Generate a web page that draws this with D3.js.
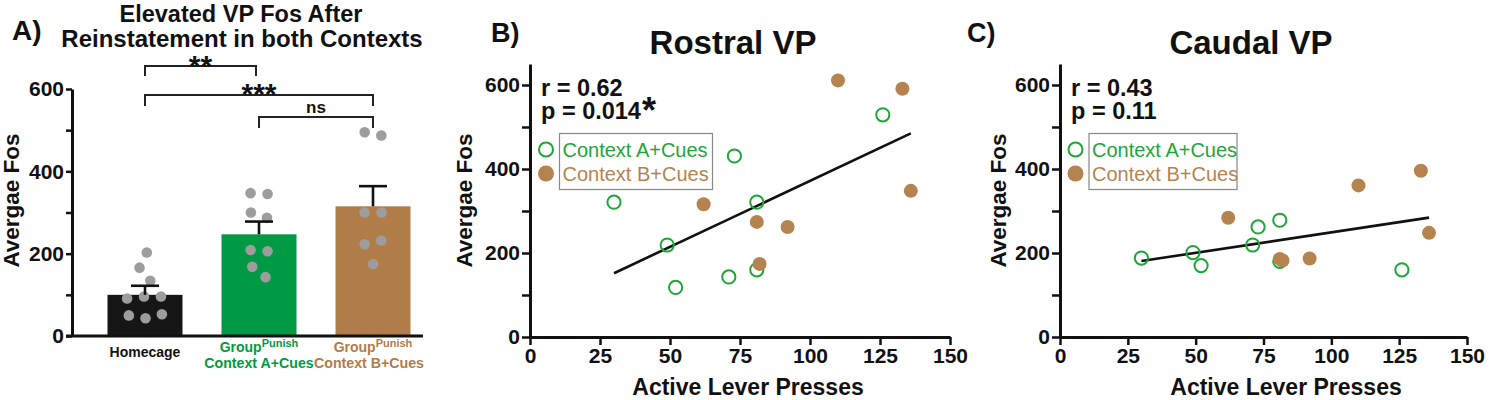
<!DOCTYPE html>
<html><head><meta charset="utf-8">
<script src="https://cdn.jsdelivr.net/npm/d3@7"></script>
<style>
body{margin:0;background:#fff}
svg{display:block;font-family:"Liberation Sans",Arial,Helvetica,sans-serif}
</style>
</head><body><svg id="c" width="1500" height="400"></svg>
<script>
// ---------------- DATA ----------------
const groups = ["Homecage", "Context A+Cues", "Context B+Cues"];
const groupMeans = [100, 247, 315];
const groupSEM = [22, 31, 49];
const homecageFos = [203, 166, 134, 96, 91, 96, 53, 43, 50];
const contextAFos = [347, 345, 300, 287, 209, 206, 168, 143];
const contextBFos = [495, 487, 300, 300, 232, 223, 175];
const comparisons = [
  {a: 0, b: 1, label: "**"},
  {a: 0, b: 2, label: "***"},
  {a: 1, b: 2, label: "ns"}
];
const barTicks = [0, 100, 200, 300, 400, 500, 600];

const leverA = [30, 49, 52, 71, 73, 81, 81, 126];
const leverB = [62, 81, 82, 92, 110, 133, 136];
const rostralFosA = [321, 219, 118, 143, 431, 321, 160, 529];
const rostralFosB = [316, 274, 174, 262, 611, 591, 348];
const caudalFosA = [188, 201, 170, 219, 262, 278, 180, 160];
const caudalFosB = [284, 186, 182, 187, 361, 396, 248];
const xTicks = [0, 25, 50, 75, 100, 125, 150];
const fosTicks = [0, 100, 200, 300, 400, 500, 600];
const legendLabels = ["Context A+Cues", "Context B+Cues"];
const statsRostral = ["r = 0.62", "p = 0.014", "*"];
const statsCaudal = ["r = 0.43", "p = 0.11", ""];

// ---------------- STYLE ----------------
const C = {
  black: "#161616", greenBar: "#009a44", brownBar: "#b07c48",
  dot: "#9d9d9d", green: "#1fa53a", brown: "#b5834f", ink: "#111"
};
const svg = d3.select("#c");

// ---------------- PANEL A ----------------
const yA = d3.scaleLinear().domain([0, 600]).range([336, 89]);
const xA = d3.scalePoint().domain(groups).range([145, 373]);
const barW = 75;
const barColors = [C.black, C.greenBar, C.brownBar];
const gA = svg.append("g");

gA.append("text").attr("x", 12).attr("y", 40).attr("font-size", 28).attr("font-weight", "bold").attr("fill", C.ink).text("A)");
gA.append("text").attr("x", 241).attr("y", 22).attr("text-anchor", "middle").attr("font-size", 23.5).attr("font-weight", "bold").attr("fill", C.ink).text("Elevated VP Fos After");
gA.append("text").attr("x", 242).attr("y", 47).attr("text-anchor", "middle").attr("font-size", 24).attr("font-weight", "bold").attr("fill", C.ink).text("Reinstatement in both Contexts");

gA.selectAll("rect.bar").data(groups).join("rect")
  .attr("x", d => xA(d) - barW / 2).attr("width", barW)
  .attr("y", (d, i) => yA(groupMeans[i])).attr("height", (d, i) => yA(0) - yA(groupMeans[i]))
  .attr("fill", (d, i) => barColors[i]);

function swarm(vals, cx) {
  const nodes = vals.map(v => ({v, x: cx, y: yA(v)}));
  const sim = d3.forceSimulation(nodes)
    .force("x", d3.forceX(cx).strength(0.04))
    .force("y", d3.forceY(d => yA(d.v)).strength(1))
    .force("c", d3.forceCollide(8.5))
    .stop();
  for (let i = 0; i < 250; i++) sim.tick();
  return nodes;
}
[homecageFos, contextAFos, contextBFos].forEach((vals, i) => {
  const nodes = swarm(vals, xA(groups[i]));
  gA.selectAll(null).data(nodes).join("circle")
    .attr("cx", d => d.x).attr("cy", d => yA(d.v)).attr("r", 5.3).attr("fill", C.dot);
});

// error bars
groups.forEach((g, i) => {
  const cx = xA(g), top = yA(groupMeans[i] + groupSEM[i]);
  gA.append("line").attr("x1", cx).attr("x2", cx).attr("y1", yA(groupMeans[i])).attr("y2", top).attr("stroke", C.ink).attr("stroke-width", 2.6);
  gA.append("line").attr("x1", cx - 14).attr("x2", cx + 14).attr("y1", top).attr("y2", top).attr("stroke", C.ink).attr("stroke-width", 2.6);
});

// axes A
const axA = gA.append("g").attr("transform", "translate(72,0)")
  .call(d3.axisLeft(yA).tickValues(barTicks).tickSize(6).tickSizeOuter(0).tickPadding(2)
    .tickFormat(d => d % 200 === 0 ? d : ""));
axA.select(".domain").attr("stroke", C.ink).attr("stroke-width", 3);
axA.selectAll(".tick line").attr("stroke", C.ink).attr("stroke-width", 2.5);
axA.selectAll(".tick text").attr("font-size", 21).attr("font-weight", "bold").attr("fill", C.ink).attr("font-family", "Liberation Sans, Arial, sans-serif");
gA.append("line").attr("x1", 66).attr("x2", 423).attr("y1", yA(0)).attr("y2", yA(0)).attr("stroke", C.ink).attr("stroke-width", 3);

gA.append("text").attr("transform", `translate(19,${(yA(0) + yA(600)) / 2 - 12}) rotate(-90)`)
  .attr("text-anchor", "middle").attr("font-size", 22.5).attr("font-weight", "bold").attr("fill", C.ink).text("Avergae Fos");

// x labels A
const labColors = [C.ink, C.greenBar, C.brownBar];
gA.append("text").attr("x", xA(groups[0])).attr("y", 357).attr("text-anchor", "middle").attr("font-size", 14).attr("font-weight", "bold").attr("fill", labColors[0]).text(groups[0]);
[1, 2].forEach(i => {
  const t = gA.append("text").attr("x", xA(groups[i])).attr("y", 352).attr("text-anchor", "middle").attr("font-weight", "bold").attr("fill", labColors[i]);
  t.append("tspan").attr("font-size", 14).text("Group");
  t.append("tspan").attr("font-size", 11).attr("dy", -5).text("Punish");
  gA.append("text").attr("x", xA(groups[i]) - (i === 2 ? 4 : 0)).attr("y", 368).attr("text-anchor", "middle").attr("font-size", 14.2).attr("font-weight", "bold").attr("fill", labColors[i]).text(groups[i]);
});

// significance brackets
const bracketY = [66, 95, 117], drop = [10, 11, 11], labelY = [76, 104, 113], labelSize = [30, 30, 17];
comparisons.forEach((c, k) => {
  const x1 = xA(groups[c.a]), x2 = xA(groups[c.b]) + (c.b === 1 ? -3 : 0);
  const y = bracketY[k];
  gA.append("path").attr("d", `M${x1},${y + drop[k]}V${y}H${x2}V${y + drop[k]}`)
    .attr("fill", "none").attr("stroke", "#222").attr("stroke-width", 2);
  gA.append("text").attr("x", (x1 + x2) / 2).attr("y", labelY[k]).attr("text-anchor", "middle")
    .attr("font-size", labelSize[k]).attr("font-weight", "bold").attr("fill", C.ink).text(c.label);
});

// ---------------- SCATTER PANELS ----------------
function scatterPanel(opt) {
  const g = svg.append("g");
  const x = d3.scaleLinear().domain([0, 150]).range([opt.x0, opt.x1]);
  const y = d3.scaleLinear().domain([0, 650]).range([337, 64]);

  g.append("text").attr("x", opt.letterX).attr("y", 42).attr("font-size", 27).attr("font-weight", "bold").attr("fill", C.ink).text(opt.letter);
  g.append("text").attr("x", opt.titleX).attr("y", 54).attr("text-anchor", "middle").attr("font-size", 33).attr("font-weight", "bold").attr("fill", C.ink).text(opt.title);

  const ay = g.append("g").attr("transform", `translate(${opt.x0},0)`)
    .call(d3.axisLeft(y).tickValues(fosTicks).tickSize(8).tickSizeOuter(0).tickPadding(2)
      .tickFormat(d => d % 200 === 0 ? d : ""));
  const ax = g.append("g").attr("transform", `translate(0,${y(0)})`)
    .call(d3.axisBottom(x).tickValues(xTicks).tickSize(8).tickSizeOuter(0).tickPadding(3));
  [ay, ax].forEach(a => {
    a.select(".domain").attr("stroke", C.ink).attr("stroke-width", 3);
    a.selectAll(".tick line").attr("stroke", C.ink).attr("stroke-width", 2.5);
    a.selectAll(".tick text").attr("font-size", 21).attr("font-weight", "bold").attr("fill", C.ink).attr("font-family", "Liberation Sans, Arial, sans-serif");
  });

  g.append("text").attr("transform", `translate(${opt.yLabX},${(y(0) + y(650)) / 2 + 0}) rotate(-90)`)
    .attr("text-anchor", "middle").attr("font-size", 22.5).attr("font-weight", "bold").attr("fill", C.ink).text("Avergae Fos");
  g.append("text").attr("x", opt.xLabX).attr("y", 395).attr("text-anchor", "middle").attr("font-size", 23).attr("font-weight", "bold").attr("fill", C.ink).text("Active Lever Presses");

  // regression line (least squares on all points)
  const xs = leverA.concat(leverB), ys = opt.fosA.concat(opt.fosB);
  const mx = d3.mean(xs), my = d3.mean(ys);
  const slope = d3.sum(xs, (v, i) => (v - mx) * (ys[i] - my)) / d3.sum(xs, v => (v - mx) ** 2);
  const [lo, hi] = d3.extent(xs);
  g.append("line").attr("x1", x(lo)).attr("y1", y(my + slope * (lo - mx)))
    .attr("x2", x(hi)).attr("y2", y(my + slope * (hi - mx)))
    .attr("stroke", C.ink).attr("stroke-width", 2.6);

  g.selectAll(null).data(leverA.map((v, i) => [v, opt.fosA[i]])).join("circle")
    .attr("cx", d => x(d[0])).attr("cy", d => y(d[1])).attr("r", 6.6)
    .attr("fill", "none").attr("stroke", C.green).attr("stroke-width", 2);
  g.selectAll(null).data(leverB.map((v, i) => [v, opt.fosB[i]])).join("circle")
    .attr("cx", d => x(d[0])).attr("cy", d => y(d[1])).attr("r", 7)
    .attr("fill", C.brown);

  // stats
  g.append("text").attr("x", opt.x0 + 11).attr("y", 96).attr("font-size", 23.5).attr("font-weight", "bold").attr("fill", C.ink).text(opt.stats[0]);
  const p = g.append("text").attr("x", opt.x0 + 11).attr("y", 119).attr("font-size", 23.5).attr("font-weight", "bold").attr("fill", C.ink);
  p.append("tspan").text(opt.stats[1]);
  p.append("tspan").attr("font-size", 36).attr("dy", 4).attr("dx", 1).text(opt.stats[2]);

  // legend
  g.append("rect").attr("x", opt.legX).attr("y", 133.5).attr("width", opt.legW).attr("height", 56)
    .attr("fill", "none").attr("stroke", "#888").attr("stroke-width", 1.2);
  g.append("circle").attr("cx", opt.legX - 13.5).attr("cy", 149.5).attr("r", 7).attr("fill", "none").attr("stroke", C.green).attr("stroke-width", 2);
  g.append("circle").attr("cx", opt.legX - 13.5).attr("cy", 173.5).attr("r", 8).attr("fill", C.brown);
  g.append("text").attr("x", opt.legX + 3).attr("y", 156.5).attr("font-size", 20).attr("fill", C.green).text(legendLabels[0]);
  g.append("text").attr("x", opt.legX + 3).attr("y", 181).attr("font-size", 20).attr("fill", C.brown).text(legendLabels[1]);
}

scatterPanel({x0: 530, x1: 950, letter: "B)", letterX: 491, title: "Rostral VP", titleX: 733,
  yLabX: 472, xLabX: 748, fosA: rostralFosA, fosB: rostralFosB, stats: statsRostral, legX: 559.5, legW: 153});
scatterPanel({x0: 1060, x1: 1467, letter: "C)", letterX: 967, title: "Caudal VP", titleX: 1251,
  yLabX: 1006, xLabX: 1286, fosA: caudalFosA, fosB: caudalFosB, stats: statsCaudal, legX: 1089, legW: 148});
</script>
</body></html>
